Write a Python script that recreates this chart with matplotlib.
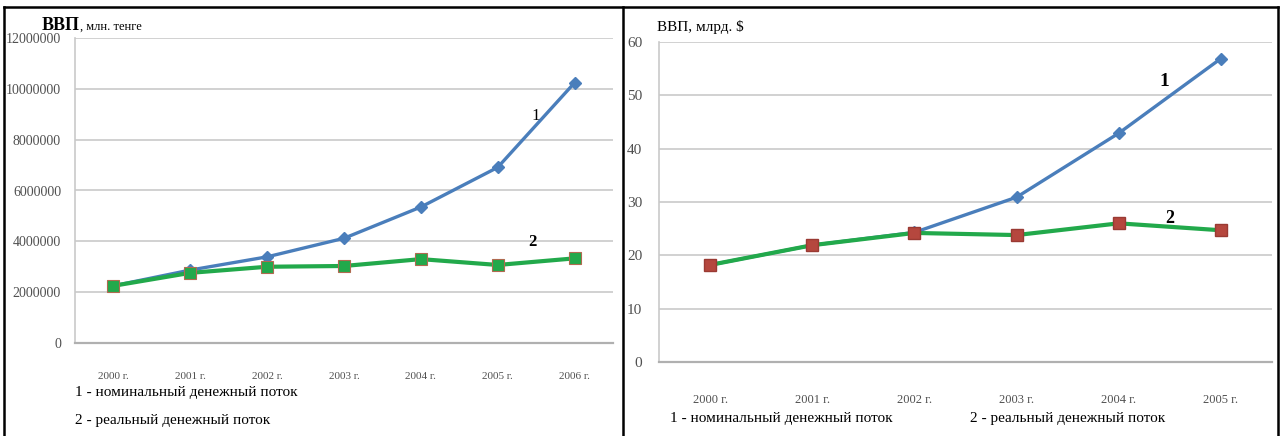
import numpy as np
import matplotlib.pyplot as plt
from matplotlib.lines import Line2D

plt.rcParams['font.family'] = ['Liberation Serif', 'DejaVu Serif']

# ВВП Казахстана, млн. тенге
years_kzt = ["2000 г.", "2001 г.", "2002 г.", "2003 г.", "2004 г.", "2005 г.", "2006 г."]
nominal_kzt = [2250000, 2870000, 3390000, 4120000, 5350000, 6910000, 10240000]
real_kzt = [2250000, 2760000, 3000000, 3030000, 3300000, 3070000, 3330000]

# ВВП, млрд. $
years_usd = ["2000 г.", "2001 г.", "2002 г.", "2003 г.", "2004 г.", "2005 г."]
nominal_usd = [18.2, 21.9, 24.3, 30.9, 42.9, 56.9]
real_usd = [18.2, 21.9, 24.2, 23.8, 26.0, 24.7]

legend_1 = "1 - номинальный денежный поток"
legend_2 = "2 - реальный денежный поток"

W, H = 1281, 436
fig = plt.figure(figsize=(W / 100, H / 100), dpi=100)


def px_axes(x0, y0, x1, y1):
    # axes box given in pixel coords (top-left origin)
    return fig.add_axes([x0 / W, 1 - y1 / H, (x1 - x0) / W, (y1 - y0) / H])


blue = "#4a7ebb"
green = "#22a94b"
grid_c = "#c9c9c9"
tick_c = "#505050"


def style(ax):
    ax.set_facecolor("none")
    for s in ["top", "right"]:
        ax.spines[s].set_visible(False)
    ax.spines["left"].set_color(grid_c)
    ax.spines["bottom"].set_color("#b0b0b0")
    ax.spines["bottom"].set_linewidth(1.6)
    ax.spines["left"].set_linewidth(1.2)
    ax.yaxis.grid(True, color=grid_c, lw=1.2)
    ax.set_axisbelow(True)
    ax.tick_params(length=0, colors=tick_c, labelsize=10)


# left chart
ax1 = px_axes(75, 38, 613, 343)
style(ax1)
x1 = np.arange(len(years_kzt))
ax1.plot(x1, nominal_kzt, color=blue, lw=2.4, marker="D", ms=6, mfc=blue, mec=blue, zorder=3)
ax1.plot(x1, real_kzt, color=green, lw=3, marker="s", ms=9, mfc=green, mec="#b06a50", mew=0.8, zorder=4)
ax1.set_xlim(-0.5, len(years_kzt) - 0.5)
ax1.set_ylim(0, 12000000)
ax1.set_yticks(np.arange(0, 12000001, 2000000))
ax1.set_yticklabels([f"{v:d}" for v in range(0, 12000001, 2000000)])
ax1.set_xticks(x1)
ax1.set_xticklabels(years_kzt, fontsize=8)
ax1.tick_params(axis="x", pad=21)
ax1.tick_params(axis="y", pad=10)
ax1.text(5.5, 8950000, "1", fontsize=12, ha="center", va="center")
ax1.text(5.45, 3970000, "2", fontsize=12, ha="center", va="center", fontweight="bold")
fig.text(42 / W, 1 - 25 / H, "ВВП", fontsize=13, fontweight="bold", va="center")
fig.text(80 / W, 1 - 27 / H, ", млн. тенге", fontsize=9, va="center")
fig.text(75 / W, 1 - 392 / H, legend_1, fontsize=11, va="center")
fig.text(75 / W, 1 - 420 / H, legend_2, fontsize=11, va="center")

# right chart
ax2 = px_axes(659, 42, 1272, 362)
style(ax2)
x2 = np.arange(len(years_usd))
ax2.plot(x2, nominal_usd, color=blue, lw=2.4, marker="D", ms=6, mfc=blue, mec=blue, zorder=3)
ax2.plot(x2, real_usd, color=green, lw=3, marker="s", ms=9, mfc="#b5473e", mec="#9a3a33", zorder=4)
ax2.set_xlim(-0.5, len(years_usd) - 0.5)
ax2.set_ylim(0, 60)
ax2.set_yticks(range(0, 61, 10))
ax2.set_xticks(x2)
ax2.set_xticklabels(years_usd, fontsize=9)
ax2.tick_params(axis="x", pad=23)
ax2.tick_params(axis="y", pad=12, labelsize=11)
ax2.text(4.45, 52.6, "1", fontsize=14, ha="center", va="center", fontweight="bold")
ax2.text(4.5, 27.0, "2", fontsize=13, ha="center", va="center", fontweight="bold")
fig.text(657 / W, 1 - 27 / H, "ВВП, млрд. $", fontsize=11, va="center")
fig.text(670 / W, 1 - 418 / H, legend_1, fontsize=11, va="center")
fig.text(970 / W, 1 - 418 / H, legend_2, fontsize=11, va="center")

# panel frames
for xs, ys in [([4 / W, 4 / W], [0, 1 - 7 / H]),
               ([623 / W, 623 / W], [0, 1 - 7 / H]),
               ([1278 / W, 1278 / W], [0, 1 - 7 / H]),
               ([4 / W, 1278 / W], [1 - 7 / H, 1 - 7 / H])]:
    fig.add_artist(Line2D(xs, ys, color="black", lw=1.8, transform=fig.transFigure))

fig.savefig("out.png", dpi=100)
